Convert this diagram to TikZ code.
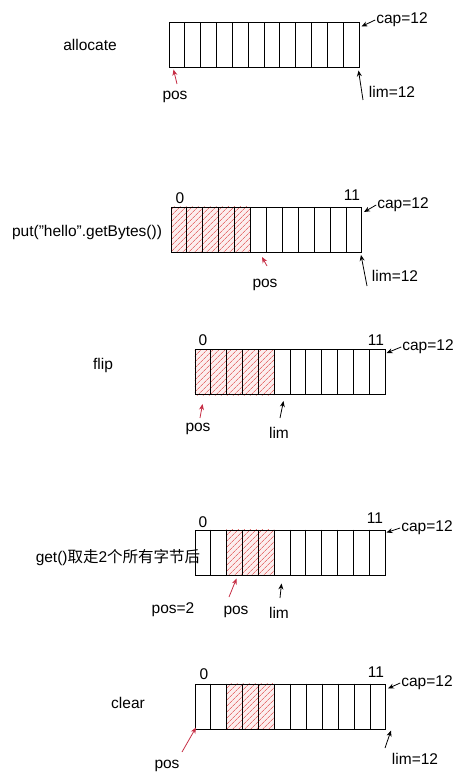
\documentclass[tikz,border=0pt]{standalone}
\usepackage{fontspec}
\setmainfont{Liberation Sans}
\newfontfamily\cjk{Noto Sans CJK SC}
\usetikzlibrary{calc, arrows.meta, patterns.meta, backgrounds}
\definecolor{hatch-red}{HTML}{E57373}
\definecolor{ptr-red}{HTML}{C62E45}

\tikzset{
  buffer/.style={draw, line width=1pt, minimum width=190pt, minimum height=45pt, inner sep=0pt},
  hatched/.style={pattern={Lines[angle=45, distance=4pt, line width=0.8pt]}, pattern color=hatch-red},
  ptr/.style={-{Stealth[length=6pt, width=5pt]}, line width=0.8pt},
  redptr/.style={ptr, color=ptr-red},
  lbl/.style={font=\fontsize{15.5}{18}\selectfont, inner sep=1pt},
}

% 12 cells of one buffer
\newcommand{\bufcells}[1]{%
  \foreach \i in {1,...,11}
    \draw[line width=1pt] ($(#1.north west)!\i/12!(#1.north east)$)
      -- ($(#1.south west)!\i/12!(#1.south east)$);}
% hatched cells #2..#3 of buffer #1
\newcommand{\bufhatch}[3]{%
  \begin{scope}[on background layer]
    \fill[hatch-red!12] ($(#1.north west)!#2/12!(#1.north east)$)
      rectangle ($(#1.south west)!#3/12!(#1.south east)$);
    \fill[hatched] ($(#1.north west)!#2/12!(#1.north east)$)
      rectangle ($(#1.south west)!#3/12!(#1.south east)$);
  \end{scope}}

\begin{document}
\begin{tikzpicture}[x=1pt, y=-1pt]
    % Five snapshots of one 12-byte buffer, top to bottom.
    % Coordinates in px, y grows downwards:
    %   buffers 190 x 45, centres at y = 45, 230, 372, 552, 706
    \useasboundingbox (0,0) rectangle (465,783);

    % allocate
    \node[buffer] (buf1) at (264,45.5) {};
    \bufcells{buf1}
    \node[lbl] (op1) at (90,45) {allocate};
    \node[lbl] (cap1) at (402,20) {cap=12};
    \node[lbl] (lim1) at (392,92) {lim=12};
    \node[lbl] (pos1) at (175,97) {pos};
    \coordinate (lim1tail) at (363,100);
    \coordinate (pos1tail) at (177,84);
    \draw[ptr] (cap1.west) -- ($(buf1.north east)+(2,4)$);
    \draw[ptr] (lim1tail) -- ($(buf1.south east)+(-1,2)$);
    \draw[redptr] (pos1tail) -- ($(buf1.south west)+(5,1)$);

    % put
    \node[buffer] (buf2) at (266.5,230) {};
    \bufhatch{buf2}{0}{5}
    \bufcells{buf2}
    \node[lbl] (op2) at (87,232) {put(\char34 hello\char34.getBytes())};
    \node[lbl] (first2) at (180,198) {0};
    \node[lbl] (last2) at (352,195) {11};
    \node[lbl] (cap2) at (403,205) {cap=12};
    \node[lbl] (lim2) at (395,276) {lim=12};
    \node[lbl] (pos2) at (265,285) {pos};
    \coordinate (lim2tail) at (367,286);
    \coordinate (pos2tail) at (267,266);
    \draw[ptr] (cap2.west) -- ($(buf2.north east)+(2,5)$);
    \draw[ptr] (lim2tail) -- ($(buf2.south east)+(-1,2)$);
    \draw[redptr] (pos2tail) -- ($(buf2.south west)+(91,4)$);

    % flip
    \node[buffer] (buf3) at (290,372) {};
    \bufhatch{buf3}{0}{5}
    \bufcells{buf3}
    \node[lbl] (op3) at (103,365) {flip};
    \node[lbl] (first3) at (203,340) {0};
    \node[lbl] (last3) at (376,340) {11};
    \node[lbl] (cap3) at (428,347) {cap=12};
    \node[lbl] (pos3) at (198,429) {pos};
    \node[lbl] (lim3) at (279,433) {lim};
    \coordinate (pos3tail) at (200,418);
    \coordinate (lim3tail) at (280,418);
    \draw[ptr] (cap3.west) -- ($(buf3.north east)+(1,4)$);
    \draw[redptr] (pos3tail) -- ($(buf3.south west)+(8,9)$);
    \draw[ptr] (lim3tail) -- ($(buf3.south west)+(89,6)$);

    % get
    \node[buffer] (buf4) at (290,552.5) {};
    \bufhatch{buf4}{2}{5}
    \bufcells{buf4}
    \node[lbl] (op4) at (118,558) {get(){\cjk 取走}2{\cjk 个所有字节后}};
    \node[lbl] (first4) at (203,522) {0};
    \node[lbl] (last4) at (375,518) {11};
    \node[lbl] (cap4) at (427,528) {cap=12};
    \node[lbl] (posval4) at (173,610) {pos=2};
    \node[lbl] (pos4) at (236,612) {pos};
    \node[lbl] (lim4) at (279,613) {lim};
    \coordinate (pos4tail) at (229,597);
    \coordinate (lim4tail) at (280,598);
    \draw[ptr] (cap4.west) -- ($(buf4.north east)+(1,3)$);
    \draw[redptr] (pos4tail) -- ($(buf4.south west)+(42,3)$);
    \draw[ptr] (lim4tail) -- ($(buf4.south west)+(87,8)$);

    % clear
    \node[buffer] (buf5) at (290.5,706.5) {};
    \bufhatch{buf5}{2}{5}
    \bufcells{buf5}
    \node[lbl] (op5) at (128,703) {clear};
    \node[lbl] (first5) at (204,674) {0};
    \node[lbl] (last5) at (376,672) {11};
    \node[lbl] (cap5) at (427,683) {cap=12};
    \node[lbl] (pos5) at (167,766) {pos};
    \node[lbl] (lim5) at (415,759) {lim=12};
    \coordinate (pos5tail) at (182,752);
    \coordinate (lim5tail) at (385,748);
    \draw[ptr] (cap5.west) -- ($(buf5.north east)+(2,5)$);
    \draw[redptr] (pos5tail) -- ($(buf5.south west)+(1,-2)$);
    \draw[ptr] (lim5tail) -- ($(buf5.south east)+(5,1)$);
  \end{tikzpicture}
\end{document}
